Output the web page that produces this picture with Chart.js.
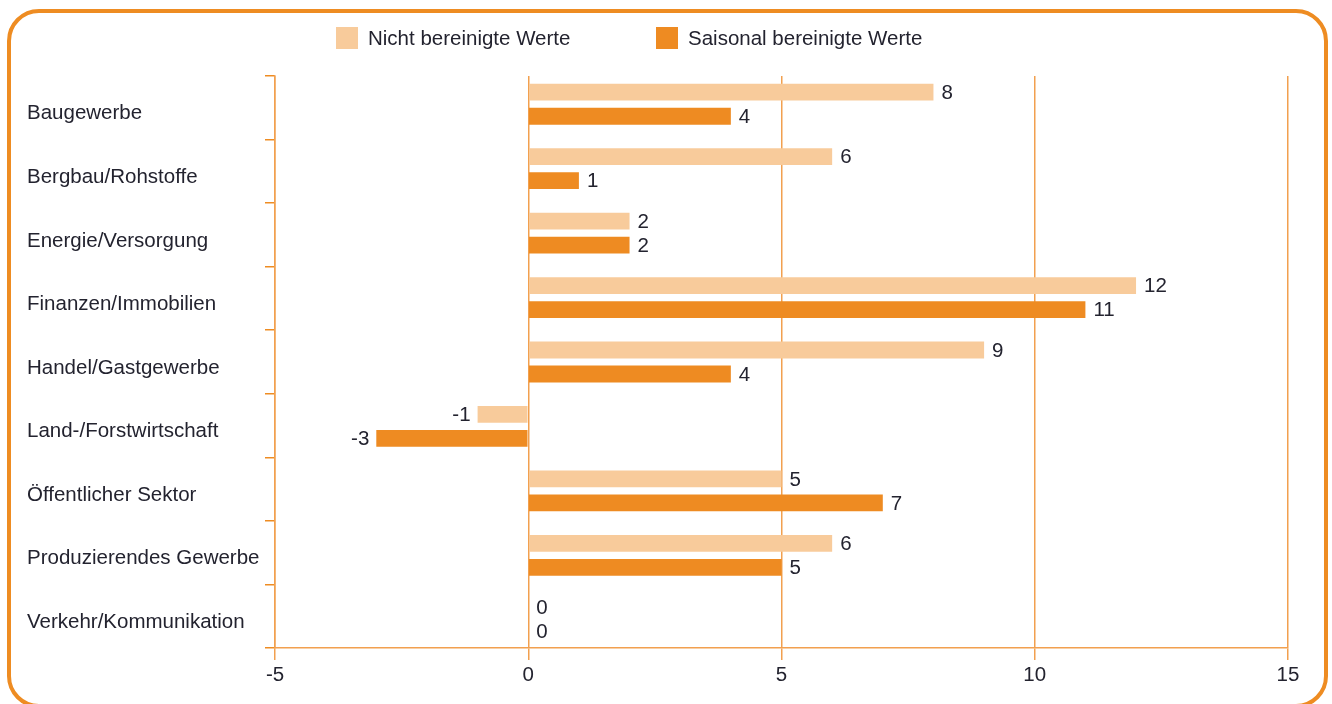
<!DOCTYPE html>
<html><head><meta charset="utf-8">
<script src="https://cdn.jsdelivr.net/npm/chart.js@4"></script>
<style>
html,body{margin:0;padding:0;background:#fff;overflow:hidden}
#wrap{position:relative;width:1332px;height:704px}
#frame{position:absolute;left:7px;top:9px;width:1321px;height:699px;box-sizing:border-box;border:4px solid #EE8C22;border-radius:32px;pointer-events:none}
canvas{position:absolute;left:0;top:0}
</style></head><body>
<div id="wrap"><canvas id="c" width="1332" height="704"></canvas><div id="frame"></div></div>
<script>
const categories = ["Baugewerbe","Bergbau/Rohstoffe","Energie/Versorgung","Finanzen/Immobilien","Handel/Gastgewerbe","Land-/Forstwirtschaft","Öffentlicher Sektor","Produzierendes Gewerbe","Verkehr/Kommunikation"];
const nichtBereinigt = [8,6,2,12,9,-1,5,6,0];
const saisonalBereinigt = [4,1,2,11,4,-3,7,5,0];
const seriesLabels = ["Nicht bereinigte Werte","Saisonal bereinigte Werte"];
const seriesColors = ["#F8CB9B","#EE8B22"];
const xMin = -5, xMax = 15, xStep = 5;

const FONT = '"Liberation Sans", Arial, sans-serif';
const FS = 20.5;
const TEXT = '#23232f';
Chart.defaults.font.family = FONT;
Chart.defaults.font.size = FS;
Chart.defaults.color = TEXT;

// bar band of the reference runs slightly beyond the tick band
const barBand = {
  id:'barBand',
  afterLayout(chart){
    const s = chart.scales.yb;
    s.top = 72; s.bottom = 652; s.height = 580;
    s.configure();
  }
};

const valueLabels = {
  id:'valueLabels',
  afterDatasetsDraw(chart){
    const ctx = chart.ctx;
    ctx.save();
    ctx.font = FS + 'px ' + FONT;
    ctx.fillStyle = TEXT;
    ctx.textBaseline = 'middle';
    chart.data.datasets.forEach((ds,i)=>{
      chart.getDatasetMeta(i).data.forEach((bar,j)=>{
        const v = ds.data[j];
        if (v < 0){ ctx.textAlign='right'; ctx.fillText(String(v), bar.x-7, bar.y+1); }
        else { ctx.textAlign='left'; ctx.fillText(String(v), bar.x+8, bar.y+1); }
      });
    });
    ctx.restore();
  }
};

const customLegend = {
  id:'customLegend',
  afterDraw(chart){
    const ctx = chart.ctx;
    const xs = [336, 656];
    ctx.save();
    ctx.font = FS + 'px ' + FONT;
    ctx.textBaseline = 'middle';
    ctx.textAlign = 'left';
    chart.data.datasets.forEach((ds,i)=>{
      ctx.fillStyle = ds.backgroundColor;
      ctx.fillRect(xs[i], 27, 22, 22);
      ctx.fillStyle = TEXT;
      ctx.fillText(ds.label, xs[i]+32, 39);
    });
    ctx.restore();
  }
};

new Chart(document.getElementById('c'), {
  type:'bar',
  data:{
    labels: categories,
    datasets:[
      {label:seriesLabels[0], data:nichtBereinigt, yAxisID:'yb', backgroundColor:seriesColors[0], borderWidth:0, categoryPercentage:0.745, barPercentage:0.70},
      {label:seriesLabels[1], data:saisonalBereinigt, yAxisID:'yb', backgroundColor:seriesColors[1], borderWidth:0, categoryPercentage:0.745, barPercentage:0.70}
    ]
  },
  options:{
    indexAxis:'y',
    responsive:false,
    animation:false,
    layout:{padding:{top:76,right:44,left:27,bottom:0}},
    plugins:{legend:{display:false}, tooltip:{enabled:false}},
    scales:{
      x:{
        min:xMin, max:xMax,
        ticks:{stepSize:xStep, padding:3, color:TEXT},
        grid:{color:'#F2A04F', lineWidth:1.5, tickLength:12},
        border:{display:true, color:'#F2A04F', width:1.5},
        afterFit(s){ s.height = 56; }
      },
      y:{
        type:'category', axis:'y', position:'left',
        labels: categories,
        ticks:{crossAlign:'far', labelOffset:6, color:TEXT},
        grid:{offset:true, drawOnChartArea:false, color:'#EE8C22', lineWidth:1.5, tickLength:10},
        border:{display:true, color:'#F2A04F', width:1.5},
        afterFit(s){ s.width = 248; }
      },
      yb:{
        type:'category', axis:'y', position:'left', display:false,
        labels: categories
      }
    }
  },
  plugins:[barBand, valueLabels, customLegend]
});
</script>
</body></html>
